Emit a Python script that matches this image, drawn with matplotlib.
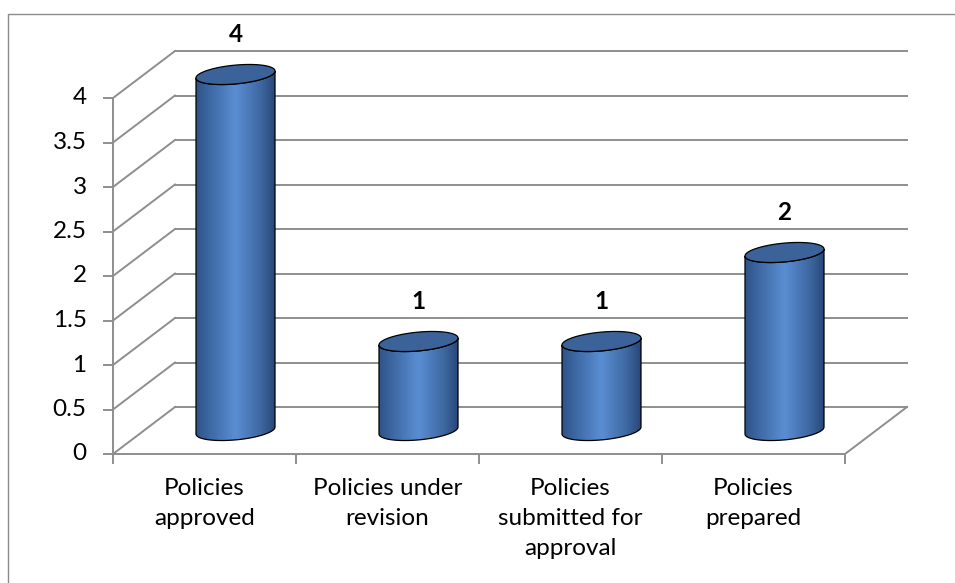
import numpy as np
import matplotlib
matplotlib.use("Agg")
import matplotlib.pyplot as plt
from matplotlib.colors import LinearSegmentedColormap
from matplotlib.patches import Polygon

# chart data
categories = ["Policies\napproved", "Policies under\nrevision",
              "Policies\nsubmitted for\napproval", "Policies\nprepared"]
values = [4, 1, 1, 2]
y_ticks = [0, 0.5, 1, 1.5, 2, 2.5, 3, 3.5, 4]
y_tick_labels = ["0", "0.5", "1", "1.5", "2", "2.5", "3", "3.5", "4"]

W, H = 955, 583
# pixel layout of the front plane
X0, PX_PER_CAT = 113, 183.0
Y0, PX_PER_VAL = 454, 89.0
# depth offset (pixels) of the back wall, in data units
DX = 62 / PX_PER_CAT
DY = 47 / PX_PER_VAL

FONT = "Lato"
FS = 17.5
GRID = "#8e8e8e"

fig = plt.figure(figsize=(W / 100, H / 100), dpi=100)
ax = fig.add_axes([0, 0, 1, 1])
ax.set_xlim(-X0 / PX_PER_CAT, (W - X0) / PX_PER_CAT)
ax.set_ylim((Y0 - H) / PX_PER_VAL, Y0 / PX_PER_VAL)
ax.axis("off")

n = len(categories)
ymax = y_ticks[-1]

# outer chart border (left and top visible)
ax.plot([8 / W, 8 / W, 1], [0, 1 - 14 / H, 1 - 14 / H], transform=ax.transAxes,
        color="#8c8c8c", lw=1.0, clip_on=False)

# back wall gridlines and side wall diagonals
for t in y_ticks:
    ax.plot([DX, n + DX], [t + DY, t + DY], color=GRID, lw=1.4, zorder=1)
    ax.plot([0, DX], [t, t + DY], color=GRID, lw=1.4, zorder=1)
    ax.plot([-9 / PX_PER_CAT, 0], [t, t], color=GRID, lw=1.4, zorder=1)

# floor
ax.plot([0, n, n + DX], [0, 0, DY], color=GRID, lw=1.4, zorder=1)
# front value axis
ax.plot([0, 0], [0, ymax], color=GRID, lw=1.4, zorder=1)
# category ticks
for i in range(n + 1):
    ax.plot([i, i], [0, -9 / PX_PER_VAL], color=GRID, lw=1.4, zorder=1)

# y tick labels
for t, lab in zip(y_ticks, y_tick_labels):
    ax.annotate(lab, (0, t), xytext=(-19, 0), textcoords="offset points",
                ha="right", va="center", fontsize=FS, family=FONT, color="#000000")

# category labels
for i, lab in enumerate(categories):
    ax.annotate(lab, (i + 0.5, 0), xytext=(0, -17), textcoords="offset points",
                ha="center", va="top", fontsize=FS, family=FONT, color="#000000",
                linespacing=1.55)

# cylinders
cmap = LinearSegmentedColormap.from_list(
    "cyl", [(0, "#2f5388"), (0.18, "#3e69a4"), (0.5, "#5a8ed3"),
            (0.82, "#3e68a1"), (1, "#29477a")])
A, B, S = 39.5, 9.4, 3.5  # ellipse half width, half height, shear (px)
tt = np.linspace(0, 2 * np.pi, 200)


def ellipse(cx, cy, t):
    x = cx + A * np.cos(t) / PX_PER_CAT
    y = cy + (B * np.sin(t) + S * np.cos(t)) / PX_PER_VAL
    return x, y


grad = np.linspace(0, 1, 256).reshape(1, -1)
for i, v in enumerate(values):
    cx = i + 0.5 + DX / 2
    yb = DY / 2
    yt = v + DY / 2
    front = np.linspace(np.pi, 2 * np.pi, 100)
    tx, ty = ellipse(cx, yt, front)
    bx, by = ellipse(cx, yb, front[::-1])
    body = np.column_stack([np.r_[tx, bx], np.r_[ty, by]])
    poly = Polygon(body, closed=True, facecolor="none", edgecolor="black",
                   lw=0.9, zorder=3)
    ax.add_patch(poly)
    hw = A / PX_PER_CAT
    im = ax.imshow(grad, cmap=cmap, aspect="auto", zorder=2,
                   extent=[cx - hw, cx + hw, by.min() - 0.01, ty.max() + 0.01])
    im.set_clip_path(poly)

    ex, ey = ellipse(cx, yt, tt)
    ax.add_patch(Polygon(np.column_stack([ex, ey]), closed=True,
                         facecolor="#3b6399", edgecolor="black", lw=0.9, zorder=4))

    ax.annotate(str(v), (cx, yt), xytext=(0, 29), textcoords="offset points",
                ha="center", va="center", fontsize=FS, fontweight="bold",
                family=FONT, color="#000000")

ax.set_xlim(-X0 / PX_PER_CAT, (W - X0) / PX_PER_CAT)
ax.set_ylim((Y0 - H) / PX_PER_VAL, Y0 / PX_PER_VAL)

fig.savefig("out.png", dpi=100)
